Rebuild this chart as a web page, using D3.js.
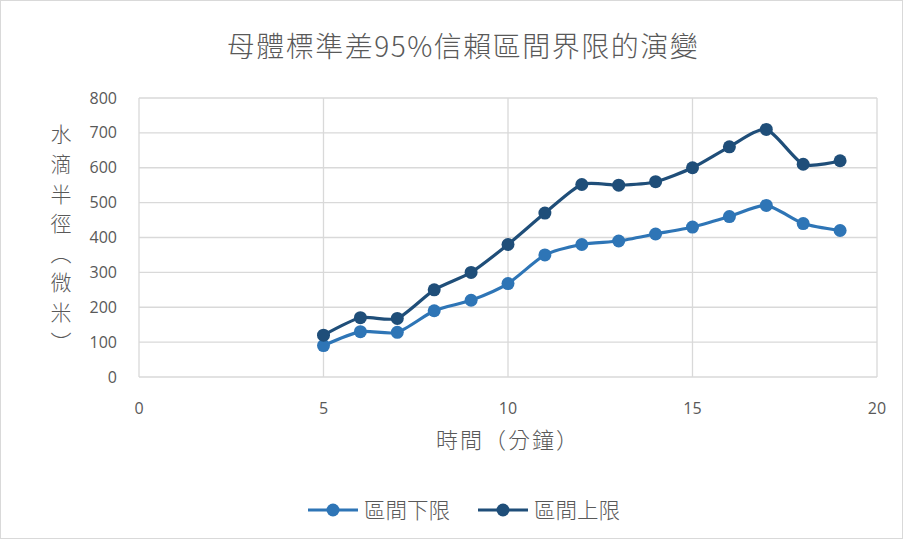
<!DOCTYPE html>
<html><head><meta charset="utf-8">
<script src="https://cdn.jsdelivr.net/npm/d3@7"></script>
<style>body{margin:0;background:#fff}svg{display:block}</style>
</head><body>
<svg id="c" width="906" height="541"></svg>
<script>
const title = "母體標準差95%信賴區間界限的演變";
const xTitle = "時間（分鐘）";
const yTitleChars = ["水","滴","半","徑","︵","微","米","︶"];
const times = [5,6,7,8,9,10,11,12,13,14,15,16,17,18,19];
const lowerVals = [90,130,128,190,220,268,350,380,390,410,430,460,492,440,420];
const upperVals = [120,170,168,250,300,380,470,552,550,560,600,660,710,610,620];
const seriesNames = ["區間下限","區間上限"];
const xTicks = [0,5,10,15,20];
const yTicks = [0,100,200,300,400,500,600,700,800];
const colors = ["#2e75b6","#1f4e79"];

const svg = d3.select("#c");
svg.append("rect").attr("x",0.5).attr("y",0.5).attr("width",902).attr("height",538)
  .attr("fill","#fff").attr("stroke","#d9d9d9");

const x = d3.scaleLinear().domain([0,20]).range([139,877]);
const y = d3.scaleLinear().domain([0,800]).range([377,98]);
const fontNum = "'Open Sans','Liberation Sans',sans-serif";
const fontCJK = "'Noto Sans CJK TC',sans-serif";

// gridlines
const g = svg.append("g");
g.selectAll("line.h").data(yTicks).join("line")
  .attr("x1",x(0)).attr("x2",x(20)).attr("y1",d=>y(d)).attr("y2",d=>y(d))
  .attr("stroke","#d9d9d9").attr("stroke-width",1.3);
g.selectAll("line.v").data(xTicks).join("line")
  .attr("y1",y(0)).attr("y2",y(800)).attr("x1",d=>x(d)).attr("x2",d=>x(d))
  .attr("stroke","#d9d9d9").attr("stroke-width",1.3);

// y tick labels
svg.append("g").selectAll("text").data(yTicks).join("text")
  .attr("x",117).attr("y",d=>y(d)).attr("dy","0.35em").attr("text-anchor","end")
  .attr("font-family",fontNum).attr("font-size",16).attr("fill","#595959").text(d=>d);
// x tick labels
svg.append("g").selectAll("text").data(xTicks).join("text")
  .attr("x",d=>x(d)).attr("y",408).attr("dy","0.35em").attr("text-anchor","middle")
  .attr("font-family",fontNum).attr("font-size",16).attr("fill","#595959").text(d=>d);

// title
svg.append("text").attr("x",463).attr("y",47).attr("dy","0.35em").attr("text-anchor","middle")
  .attr("font-family",fontCJK).attr("font-weight",300).attr("font-size",28).attr("letter-spacing",1.5)
  .attr("fill","#595959").text(title);
// x title
svg.append("text").attr("x",508).attr("y",440).attr("dy","0.35em").attr("text-anchor","middle")
  .attr("font-family",fontCJK).attr("font-weight",300).attr("font-size",22).attr("letter-spacing",2)
  .attr("fill","#595959").text(xTitle);
// y title
svg.append("g").selectAll("text").data(yTitleChars).join("text")
  .attr("x",61).attr("y",(d,i)=>135+i*29.6).attr("dy","0.35em").attr("text-anchor","middle")
  .attr("font-family",fontCJK).attr("font-weight",300).attr("font-size",21).attr("fill","#595959").text(d=>d);

// series
const series = [lowerVals, upperVals];
const line = d3.line().x((d,i)=>x(times[i])).y(d=>y(d)).curve(d3.curveCardinal.tension(0.3));
series.forEach((vals,k)=>{
  svg.append("path").attr("d",line(vals)).attr("fill","none")
    .attr("stroke",colors[k]).attr("stroke-width",3.2).attr("stroke-linejoin","round");
  svg.append("g").selectAll("circle").data(vals).join("circle")
    .attr("cx",(d,i)=>x(times[i])).attr("cy",d=>y(d)).attr("r",6.5).attr("fill",colors[k]);
});

// legend
const legX = [308, 478];
seriesNames.forEach((n,k)=>{
  const lg = svg.append("g");
  lg.append("line").attr("x1",legX[k]).attr("x2",legX[k]+50).attr("y1",510).attr("y2",510)
    .attr("stroke",colors[k]).attr("stroke-width",3.2);
  lg.append("circle").attr("cx",legX[k]+25).attr("cy",510).attr("r",6.5).attr("fill",colors[k]);
  lg.append("text").attr("x",legX[k]+56).attr("y",510).attr("dy","0.35em")
    .attr("font-family",fontCJK).attr("font-weight",300).attr("font-size",21.5).attr("fill","#595959").text(n);
});
</script>
</body></html>
